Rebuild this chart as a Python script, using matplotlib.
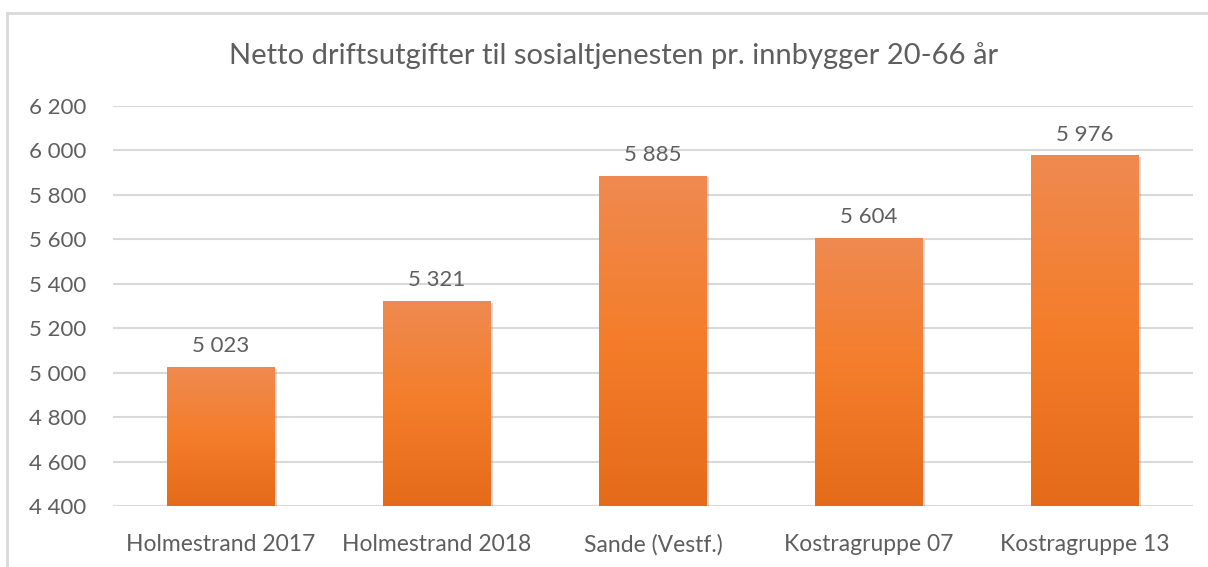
import matplotlib
matplotlib.use("Agg")
import matplotlib.pyplot as plt
import numpy as np
from matplotlib.colors import LinearSegmentedColormap
from matplotlib.lines import Line2D
import matplotlib.patheffects as pe

categories = ["Holmestrand 2017", "Holmestrand 2018", "Sande (Vestf.)", "Kostragruppe 07", "Kostragruppe 13"]
values = [5023, 5321, 5885, 5604, 5976]
y_ticks = [4400, 4600, 4800, 5000, 5200, 5400, 5600, 5800, 6000, 6200]
title = "Netto driftsutgifter til sosialtjenesten pr. innbygger 20-66 år"

plt.rcParams['font.family'] = ['Lato', 'DejaVu Sans']
txt = "#5E5E5E"
fw = "normal"

fig = plt.figure(figsize=(12.08, 5.67), dpi=100)
ax = fig.add_axes([113/1208, 1-506/567, (1193-113)/1208, (506-106)/567])

def fmt(v):
    return f"{v:,}".replace(",", " ")

cmap = LinearSegmentedColormap.from_list("g", ["#E46B19", "#F47D2A", "#EF8A50"])
grad = np.linspace(0, 1, 256).reshape(-1, 1)
width = 0.5
ymin = y_ticks[0]
x = np.arange(len(categories))
bars = ax.bar(x, np.array(values) - ymin, bottom=ymin, width=width, color="#F07D2A", zorder=2,
              edgecolor="none")
for b, v in zip(bars, values):
    x0 = b.get_x()
    b.set_path_effects([pe.SimplePatchShadow(offset=(1.5, -1), shadow_rgbFace="#888888", alpha=0.3)])
    ax.imshow(grad, extent=(x0, x0 + width, ymin, v), origin="lower", cmap=cmap,
              aspect="auto", zorder=3, interpolation="bilinear")
    ax.annotate(fmt(v), (b.get_x() + width / 2, v), xytext=(0, 11), textcoords="offset points",
                ha="center", va="baseline", fontsize=16, color=txt, fontweight=fw)

ax.set_xlim(-0.5, len(categories) - 0.5)
ax.set_ylim(y_ticks[0], y_ticks[-1])
ax.set_yticks(y_ticks)
ax.set_yticklabels([fmt(t) for t in y_ticks], fontsize=16, color=txt, fontweight=fw)
ax.set_xticks(x)
ax.set_xticklabels(categories, fontsize=16.5, color=txt, fontweight=fw)
ax.tick_params(axis="y", length=0, pad=19)
ax.tick_params(axis="x", length=0, pad=20)
for s in ax.spines.values():
    s.set_visible(False)
ax.yaxis.grid(True, color="#D9D9D9", linewidth=1.5, zorder=0)
ax.set_axisbelow(True)

fig.text(0.508, 1 - 56/567, title, ha="center", va="center", fontsize=21, color=txt, fontweight=fw)

fig.add_artist(Line2D([7/1208, 1], [1 - 13/567, 1 - 13/567], transform=fig.transFigure, color="#D9D9D9", lw=2))
fig.add_artist(Line2D([7/1208, 7/1208], [0, 1 - 13/567], transform=fig.transFigure, color="#D9D9D9", lw=2))

fig.savefig("out.png", dpi=100)
